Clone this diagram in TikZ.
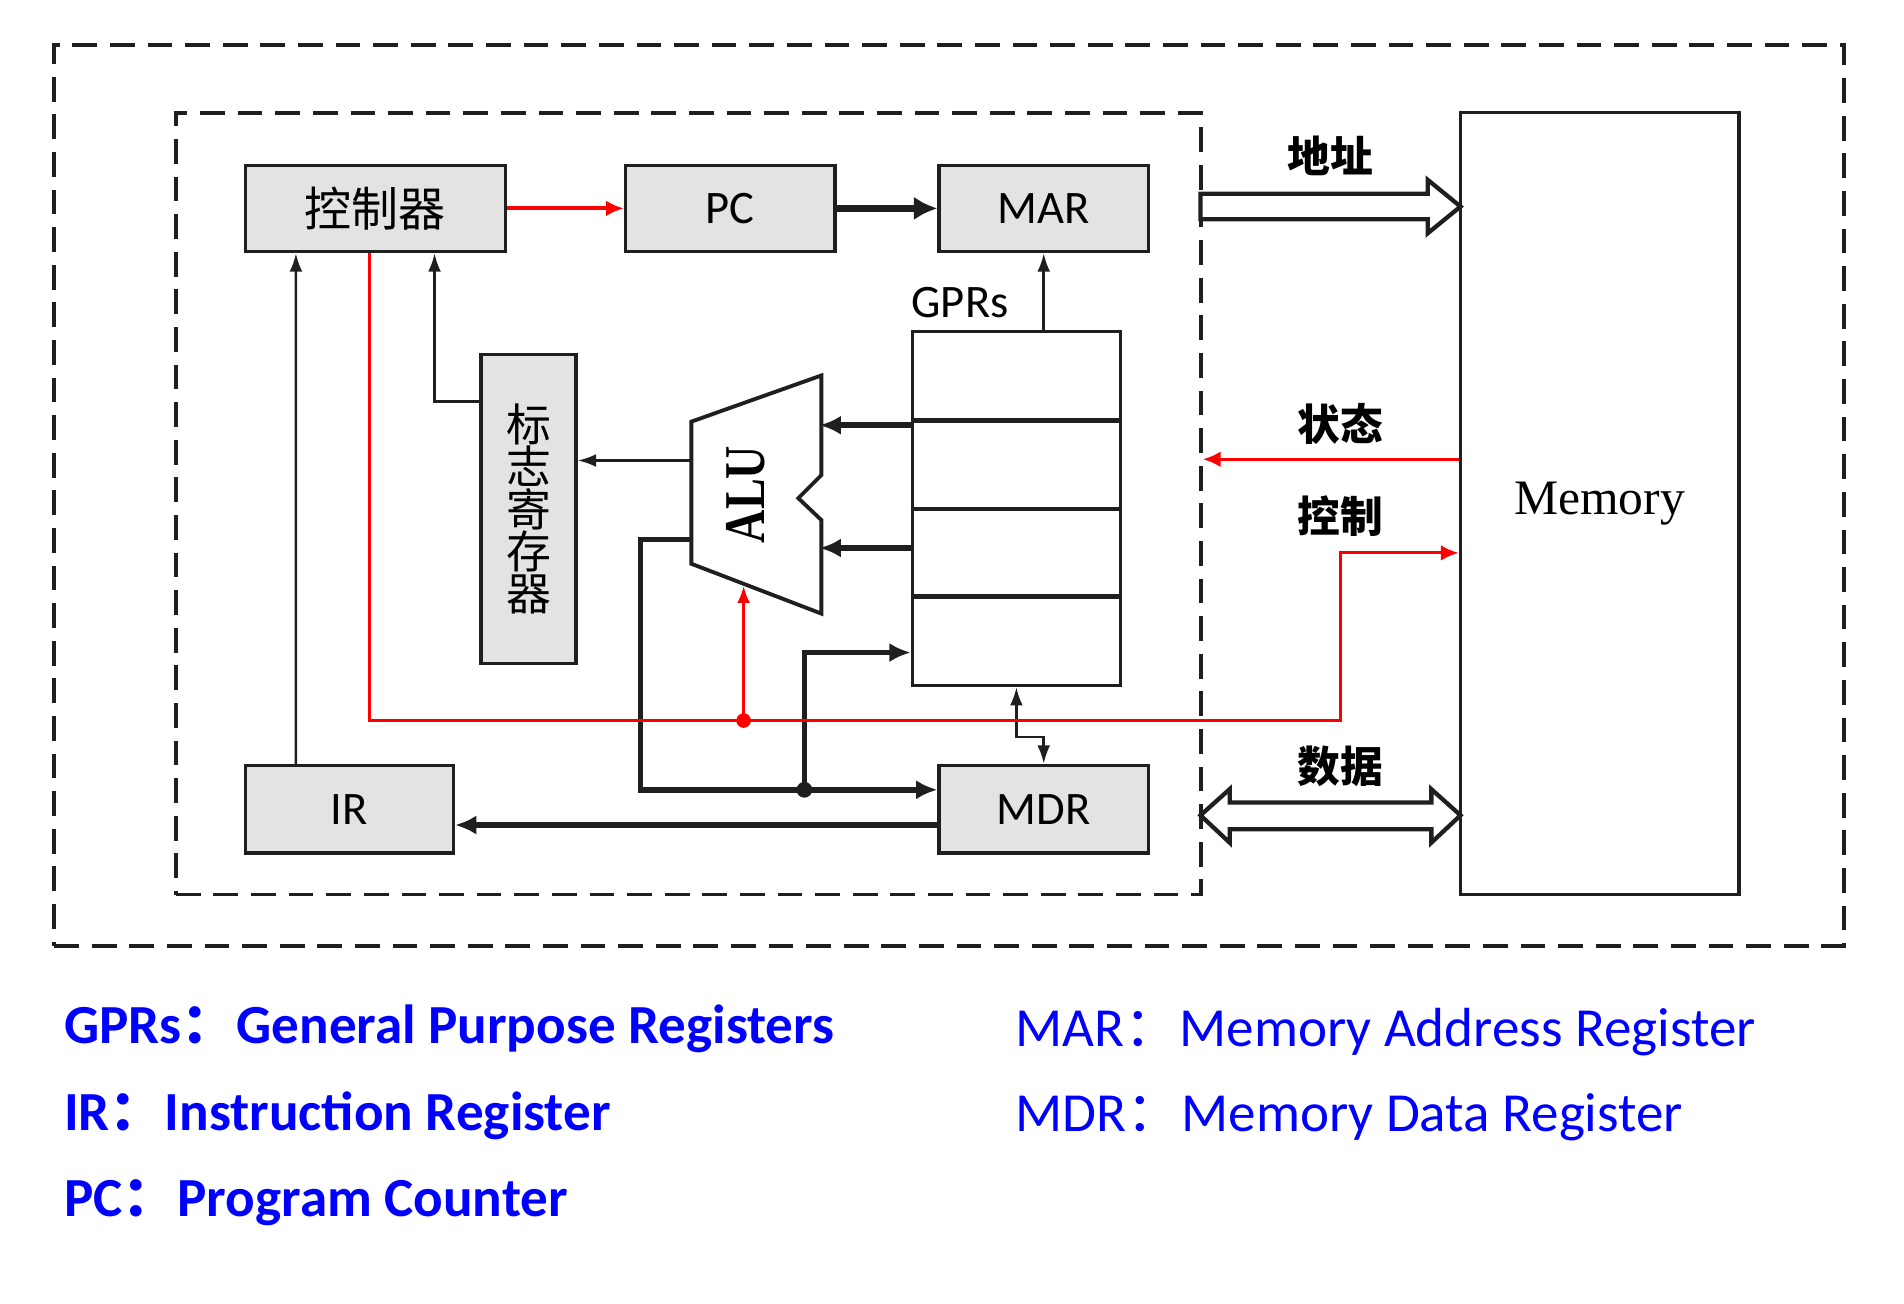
\documentclass[tikz,border=0pt]{standalone}
\usepackage{fontspec}
\usepackage{tikz}
\usetikzlibrary{arrows.meta}
\setmainfont{Carlito}
\newfontfamily\cjk{Noto Sans CJK SC}
\newfontfamily\serifont{Liberation Serif}
\newcommand\fcolon{{\cjk ：}}

\begin{document}
\begin{tikzpicture}[x=0.01cm,y=-0.01cm,
	box/.style={draw=black!88,line width=0.8pt,fill=black!11,inner sep=0pt,font=\fontsize{10.9}{13}\selectfont},
	regbox/.style={draw=black!88,line width=0.8pt,inner sep=0pt},
	dashbox/.style={draw=black!88,line width=0.9pt,dash pattern=on 5.8pt off 3pt,inner sep=0pt},
	thinarr/.style={draw=black!88,line width=0.6pt,-{Latex[length=4.3pt,width=3pt]}},
	busarr/.style={draw=black!88,line width=1.3pt,-{Latex[length=5pt,width=4.5pt]}},
	ctl/.style={red,line width=0.75pt,-{Latex[length=4.2pt,width=3.7pt]}},
	hollow/.style={draw=black!88,line width=1pt,fill=white,line join=miter},
	lab/.style={font=\fontsize{10}{12}\selectfont\cjk\bfseries},
	legend/.style={blue,anchor=base west,inner sep=0pt,font=\fontsize{12.9}{15}\selectfont}]
			\useasboundingbox (0,0) rectangle (1567,1073);
			
			\node[dashbox,minimum width=14.72cm,minimum height=7.41cm] (sys) at (781,407.5) {};
			\node[dashbox,minimum width=8.43cm,minimum height=6.43cm] (cpu) at (566.5,414.5) {};
			
			\node[box,minimum width=2.14cm,minimum height=0.71cm,font=\fontsize{11}{13}\selectfont\cjk] (ctrl) at (309,171.5) {控制器};
			\node[box,minimum width=1.72cm,minimum height=0.71cm] (pc) at (601,171.5) {PC};
			\node[box,minimum width=1.72cm,minimum height=0.71cm] (mar) at (859,171.5) {MAR};
			\node[box,minimum width=1.71cm,minimum height=0.72cm] (ir) at (287.5,666) {IR};
			\node[box,minimum width=1.72cm,minimum height=0.72cm] (mdr) at (859,666) {MDR};
			\node[box,minimum width=0.78cm,minimum height=2.54cm,align=center,font=\fontsize{10.5}{9.9}\selectfont\cjk] (flag) at (435,419) {标\\志\\寄\\存\\器};
			\node[regbox,minimum width=1.71cm,minimum height=2.91cm] (gpr) at (836.5,418.5) {};
			\foreach \y in {346,419,491}
			\draw[line width=1pt,black!88] (gpr.west |- 0,\y) -- (gpr.east |- 0,\y);
			\node[anchor=base west,inner sep=0pt,font=\fontsize{10.9}{13}\selectfont] (gprlab) at ([yshift=0.1cm]gpr.north west) {GPRs};
			\node[regbox,minimum width=2.29cm,minimum height=6.43cm,font=\fontsize{11.6}{13}\selectfont\serifont] (mem) at (1316.5,414.5) {Memory};
			
			\draw[draw=black!88,line width=0.9pt,fill=white,line join=miter] (569,347) -- (676,309) -- (676,391) -- (657,410) -- (676,428) -- (676,505) -- (569,464) -- cycle;
			\node[rotate=90,font=\fontsize{13.5}{15}\selectfont\serifont\bfseries] (alu) at (614,407) {\scalebox{0.8}[1]{ALU}};
			\coordinate (aluo) at (569,379);
			\coordinate (alub) at (569,444);
			\coordinate (jn) at (662,650);
			\coordinate (bus) at (612,593);
			
			\draw[ctl,line width=0.9pt] (ctrl) -- (pc);
			\draw[busarr,line width=1.7pt,-{Latex[length=5.5pt,width=5.5pt]}] (pc) -- (mar);
			\draw[thinarr] (mar.south |- gpr.north) -- (mar.south);
			\draw[thinarr] ([xshift=0.43cm]ir.north west) -- ([xshift=0.43cm]ctrl.south west);
			\draw[thinarr] ([yshift=-0.4cm]flag.north west) -| ([xshift=1.57cm]ctrl.south west);
			\draw[thinarr] (aluo) -- (aluo -| flag.east);
			\draw[busarr] ([yshift=0.685cm]gpr.west) -- ++(-75,0);
			\draw[busarr] ([yshift=-0.325cm]gpr.west) -- ++(-75,0);
			\draw[busarr] (alub) -- (527,444) |- ([yshift=0.16cm]mdr.west);
			\draw[busarr] (jn) |- ([yshift=-1.185cm]gpr.west);
			\fill[black!88] (jn) circle (0.065cm);
			\draw[busarr] ([yshift=-0.13cm]mdr.west) -- ([yshift=-0.13cm]ir.east);
			\draw[thinarr,{Latex[length=4.3pt,width=3pt]}-{Latex[length=4.3pt,width=3pt]}] (gpr.south) -- ++(0,41) -| (mdr.north);
			
			\draw[ctl] ([xshift=-0.05cm]ctrl.south) |- (1103,593) |- ([yshift=-0.405cm]mem.west);
			\draw[ctl,-{Latex[length=4pt,width=3pt]}] (bus) -- (612,482);
			\fill[red] (bus) circle (0.06cm);
			\draw[ctl] ([yshift=0.365cm]mem.west) -- ([yshift=0.365cm]mem.west -| cpu.east);
			
			\draw[hollow] (988,159.5) -- (1175,159.5) -- (1175,148) -- (1202,170) -- (1175,192) -- (1175,180.5) -- (988,180.5) -- cycle;
			\draw[hollow] (988,671) -- (1012,649.5) -- (1012,660.5) -- (1178,660.5) -- (1178,649.5) -- (1202,671) -- (1178,693.5) -- (1178,682.5) -- (1012,682.5) -- (1012,693.5) -- cycle;
			
			\node[lab] (addr) at (1095,128) {地址};
			\node[lab] (stat) at (1103,349) {状态};
			\node[lab] (ctlab) at (1103,425) {控制};
			\node[lab] (data) at (1103,631) {数据};
			
			\node[legend,font=\fontsize{12.9}{15}\selectfont\bfseries] (lg1) at (52,859) {GPRs\fcolon General Purpose Registers};
			\node[legend,font=\fontsize{12.9}{15}\selectfont\bfseries] (lg2) at (52,930) {IR\fcolon Instruction Register};
			\node[legend,font=\fontsize{12.9}{15}\selectfont\bfseries] (lg3) at (52,1001) {PC\fcolon Program Counter};
			\node[legend] (lg4) at (835,861) {MAR\fcolon Memory Address Register};
			\node[legend] (lg5) at (835,931) {MDR\fcolon Memory Data Register};
\end{tikzpicture}
\end{document}
